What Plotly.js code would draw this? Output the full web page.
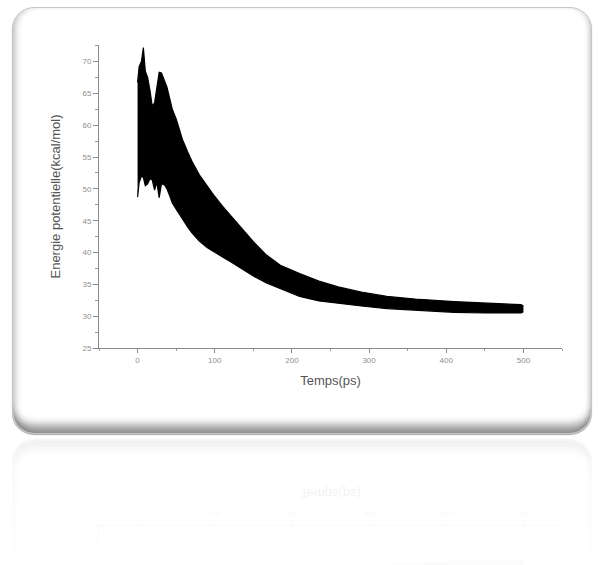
<!DOCTYPE html>
<html>
<head>
<meta charset="utf-8">
<script src="https://cdn.plot.ly/plotly-3.0.1.min.js"></script>
<style>
  html, body { margin:0; padding:0; width:598px; height:565px; overflow:hidden; background:#ffffff; }
  .stage { position:absolute; left:0; top:0; width:598px; height:440px; }
  .card {
    position:absolute; left:12px; top:7px; width:578px; height:425px;
    border-radius:22px; border:1px solid #c4c4c4; background:#ffffff;
    box-shadow: inset 0 -13px 9px -5px rgba(0,0,0,0.42),
                inset 6px 0 6px -3px rgba(0,0,0,0.2),
                inset -5px 0 5px -3px rgba(0,0,0,0.18),
                0 1px 1px rgba(0,0,0,0.35);
  }
  .plot { position:absolute; left:0; top:0; width:598px; height:440px; }
  .reflect {
    position:absolute; left:0; top:0; width:598px; height:440px;
    transform: scaleY(-1); transform-origin: 0 437px; opacity:0.13;
    -webkit-mask-image: linear-gradient(to bottom, rgba(0,0,0,0) 290px, rgba(0,0,0,1) 437px);
    mask-image: linear-gradient(to bottom, rgba(0,0,0,0) 290px, rgba(0,0,0,1) 437px);
  }
</style>
</head>
<body>
<div class="reflect">
  <div class="card"></div>
  <div id="chart2" class="plot"></div>
</div>
<div class="stage">
  <div class="card"></div>
  <div id="chart" class="plot"></div>
</div>
<script>
// Time (ps) sample points along the trajectory
var timePs = [0, 2, 5, 7.5, 10, 13, 16, 19, 22, 25, 28, 31, 35, 38, 42, 45, 50, 55, 58, 65, 71, 80, 90, 100, 110, 120, 135, 150, 167, 185, 210, 235, 260, 290, 323, 360, 410, 450, 497, 500];
// Upper envelope of the fluctuating potential energy (kcal/mol)
var energyUpper = [66.7, 69.2, 70.0, 72.2, 68.5, 67.5, 65.5, 63.0, 63.5, 66.0, 68.3, 68.2, 67.0, 66.0, 64.0, 62.5, 61.0, 59.0, 57.8, 55.8, 54.2, 52.2, 50.4, 48.8, 47.3, 45.9, 43.7, 41.7, 39.6, 38.0, 36.7, 35.5, 34.6, 33.8, 33.1, 32.7, 32.3, 32.1, 31.8, 31.6];
// Lower envelope of the fluctuating potential energy (kcal/mol)
var energyLower = [48.7, 51.0, 52.0, 51.8, 50.5, 50.8, 51.6, 51.4, 49.8, 51.0, 48.6, 50.8, 50.6, 50.0, 48.8, 47.8, 46.8, 45.8, 45.2, 44.0, 43.0, 41.8, 40.8, 40.0, 39.3, 38.6, 37.5, 36.3, 35.2, 34.3, 33.1, 32.4, 32.0, 31.6, 31.2, 30.9, 30.6, 30.5, 30.5, 30.7];

var xTickVals = [0, 100, 200, 300, 400, 500];
var xTickText = ['0', '100', '200', '300', '400', '500'];
var yTickVals = [25, 30, 35, 40, 45, 50, 55, 60, 65, 70];
var yTickText = ['25', '30', '35', '40', '45', '50', '55', '60', '65', '70'];

function draw(id, isReflection) {
  var traces = [
    { x: timePs, y: energyLower, type: 'scatter', mode: 'lines',
      line: { color: '#000000', width: 1.2 }, hoverinfo: 'skip', showlegend: false },
    { x: timePs, y: energyUpper, type: 'scatter', mode: 'lines', fill: 'tonexty',
      fillcolor: '#000000', line: { color: '#000000', width: 1.2 }, hoverinfo: 'skip', showlegend: false }
  ];
  var layout = {
    width: 598, height: 440,
    margin: { l: 99, r: 36, t: 45, b: 92 },
    paper_bgcolor: 'rgba(0,0,0,0)', plot_bgcolor: 'rgba(0,0,0,0)',
    showlegend: false,
    font: { family: 'Liberation Sans, Arial, sans-serif', color: '#555555' },
    xaxis: {
      range: [-50, 550], showgrid: false, zeroline: false,
      showline: true, linecolor: '#8a8a8a', linewidth: 1,
      tickmode: 'array', tickvals: xTickVals, ticktext: xTickText,
      ticks: 'outside', ticklen: 4, tickcolor: '#8a8a8a',
      minor: { dtick: 50, ticks: 'outside', ticklen: 2, tickcolor: '#9a9a9a', showgrid: false },
      tickfont: { size: 8, color: '#8f8f8f' },
      title: { text: 'Temps(ps)', font: { size: 13, color: '#555555' }, standoff: 12 }
    },
    yaxis: {
      range: [25, 72.6], showgrid: false, zeroline: false,
      showline: true, linecolor: '#8a8a8a', linewidth: 1,
      tickmode: 'array', tickvals: yTickVals, ticktext: yTickText,
      showticklabels: !isReflection,
      ticks: 'outside', ticklen: 5, tickcolor: '#8a8a8a',
      minor: { dtick: 2.5, ticks: 'outside', ticklen: 3, tickcolor: '#9a9a9a', showgrid: false },
      tickfont: { size: 8, color: '#8f8f8f' },
      title: { text: isReflection ? '' : 'Energie potentielle(kcal/mol)', font: { size: 13, color: '#555555' }, standoff: 18 }
    }
  };
  Plotly.newPlot(id, traces, layout, { staticPlot: true, displayModeBar: false });
}
draw('chart', false);
draw('chart2', true);
</script>
</body>
</html>
